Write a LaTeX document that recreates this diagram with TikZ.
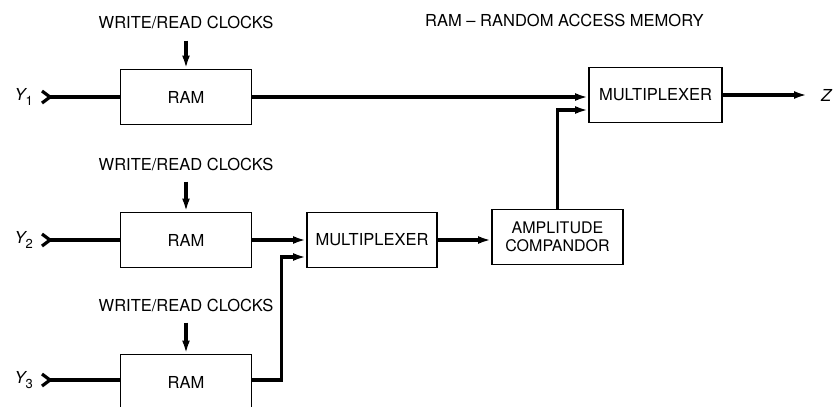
\documentclass[tikz,border=0pt]{standalone}
\usepackage{fontspec}
\setmainfont{TeX Gyre Heros}
\usetikzlibrary{arrows.meta, positioning, calc}

\begin{document}
\begin{tikzpicture}[x=1pt, y=-1pt, >={Latex[length=13pt,width=8pt]},
  line join=miter, font=\fontsize{16.5}{19}\selectfont,
  block/.style={draw, line width=1.9pt, minimum width=131pt, minimum height=55pt,
                inner sep=0pt, align=center},
  wire/.style={line width=3.2pt},
  lbl/.style={inner sep=0pt}]

  \useasboundingbox (0,0) rectangle (833,407);

  %% ---- blocks ----
  \node[block] (ram1) at (186,97) {RAM};
  \node[block] (ram2) at (186,240) {RAM};
  \node[block] (ram3) at (186,382) {RAM};
  \node[block, minimum width=133pt] (mux1) at (655.5,95) {MULTIPLEXER};
  \node[block, minimum width=130pt] (mux2) at (372,240) {MULTIPLEXER};
  \node[block, font=\fontsize{16}{18}\selectfont] (comp) at (557.5,237)
    {AMPLITUDE\\COMPANDOR};

  %% ---- clock labels ----
  \node[lbl] (clk1) at (186,23)  {WRITE/READ CLOCKS};
  \node[lbl] (clk2) at (186,164) {WRITE/READ CLOCKS};
  \node[lbl] (clk3) at (186,305) {WRITE/READ CLOCKS};
  \draw[wire,->] ([yshift=-11pt]clk1.south) -- (ram1.north);
  \draw[wire,->] ([yshift=-11pt]clk2.south) -- (ram2.north);
  \draw[wire,->] ([yshift=-11pt]clk3.south) -- (ram3.north);

  %% ---- note ----
  \node[lbl, anchor=west] (note) at (425,20) {RAM -- RANDOM ACCESS MEMORY};

  %% ---- inputs Y1..Y3 (chevron tails) ----
  \coordinate (in1) at (50,97);
  \coordinate (in2) at (50,240);
  \coordinate (in3) at (50,380);
  \node[lbl, left=17pt of in1] (y1) {\itshape Y\raisebox{-0.5ex}{\upshape\fontsize{13}{14}\selectfont 1}};
  \node[lbl, left=17pt of in2] (y2) {\itshape Y\raisebox{-0.5ex}{\upshape\fontsize{13}{14}\selectfont 2}};
  \node[lbl, left=17pt of in3] (y3) {\itshape Y\raisebox{-0.5ex}{\upshape\fontsize{13}{14}\selectfont 3}};
  \draw[wire] ($(in1)+(-8,-6)$) -- (in1) -- ($(in1)+(-8,6)$);
  \draw[wire] ($(in2)+(-8,-6)$) -- (in2) -- ($(in2)+(-8,6)$);
  \draw[wire] ($(in3)+(-8,-6)$) -- (in3) -- ($(in3)+(-8,6)$);
  \draw[wire] (in1) -- (in1 -| ram1.west);
  \draw[wire] (in2) -- (in2 -| ram2.west);
  \draw[wire] (in3) -- (in3 -| ram3.west);

  %% ---- signal path ----
  \draw[wire,->] (ram1.east) -- (ram1.east -| mux1.west);
  \draw[wire,->] (comp.north) |- ($(mux1.west)+(0,15)$);
  \draw[wire,->] (ram2.east) -- (ram2.east -| mux2.west);
  \draw[wire,->] (in3 -| ram3.east) -- ++(29,0) |- ($(mux2.west)+(0,17)$);
  \draw[wire,->] (mux2.east) -- (mux2.east -| comp.west);

  %% ---- output Z ----
  \coordinate (zend) at (807,95);
  \draw[wire,->] (mux1.east) -- (zend);
  \node[lbl, right=14pt of zend] (z) {\itshape Z};

\end{tikzpicture}
\end{document}
